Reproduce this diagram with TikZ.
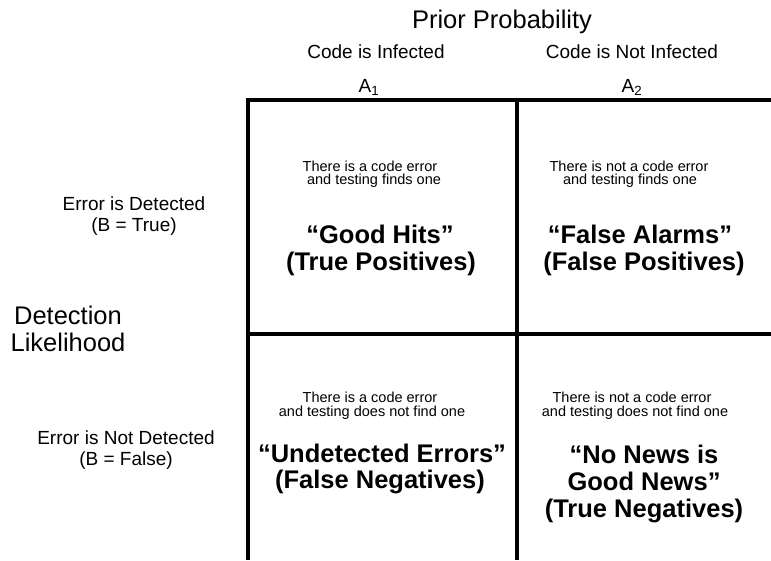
\documentclass[tikz,border=0pt]{standalone}
\usepackage{fontspec}
\setmainfont{Liberation Sans}
\begin{document}
\begin{tikzpicture}[x=1pt,y=-1pt,
  big/.style={font=\fontsize{25.5}{27}\selectfont, anchor=base, inner sep=0pt},
  bigb/.style={font=\fontsize{25.5}{27}\selectfont\bfseries, anchor=base, inner sep=0pt},
  mid/.style={font=\fontsize{19}{23}\selectfont, anchor=base, inner sep=0pt},
  small/.style={font=\fontsize{14.5}{14}\selectfont, anchor=base, inner sep=0pt},
  gridline/.style={line width=3.5pt}]
\useasboundingbox (0,0) rectangle (771,560);
% grid
\coordinate (tl) at (248,100);
\coordinate (tr) at (771,100);
\coordinate (bl) at (248,560);
\coordinate (tm) at (517,100);
\coordinate (bm) at (517,560);
\coordinate (ml) at (248,334);
\coordinate (mr) at (771,334);
\draw[gridline] (tr) -- (tl) -- (bl);
\draw[gridline] (tm) -- (bm);
\draw[gridline] (ml) -- (mr);
% headings
\node[big] (prior) at (502,28) {Prior Probability};
\node[mid] (c1) at (376,58) {Code is Infected};
\node[mid] (a1) at (369,92) {A\textsubscript{1}};
\node[mid] (c2) at (632,58) {Code is Not Infected};
\node[mid] (a2) at (632,92) {A\textsubscript{2}};
% row labels
\node[mid] (d1) at (134,210) {Error is Detected};
\node[mid] (d2) at (134,231) {(B = True)};
\node[big] (dl1) at (68,324) {Detection};
\node[big] (dl2) at (68,351) {Likelihood};
\node[mid] (n1) at (126,444) {Error is Not Detected};
\node[mid] (n2) at (126,465) {(B = False)};
% cell 1
\node[small] (s11) at (370,171) {There is a code error};
\node[small] (s12) at (374,184) {and testing finds one};
\node[bigb] (b11) at (380,243) {“Good Hits”};
\node[bigb] (b12) at (381,270) {(True Positives)};
% cell 2
\node[small] (s21) at (629,171) {There is not a code error};
\node[small] (s22) at (630,184) {and testing finds one};
\node[bigb] (b21) at (640,243) {“False Alarms”};
\node[bigb] (b22) at (644,270) {(False Positives)};
% cell 3
\node[small] (s31) at (370,402) {There is a code error};
\node[small] (s32) at (372,416) {and testing does not find one};
\node[bigb] (b31) at (382,462) {“Undetected Errors”};
\node[bigb] (b32) at (380,488) {(False Negatives)};
% cell 4
\node[small] (s41) at (632,402) {There is not a code error};
\node[small] (s42) at (635,416) {and testing does not find one};
\node[bigb] (b41) at (644,463) {“No News is};
\node[bigb] (b42) at (644,490) {Good News”};
\node[bigb] (b43) at (644,517) {(True Negatives)};
\end{tikzpicture}
\end{document}
